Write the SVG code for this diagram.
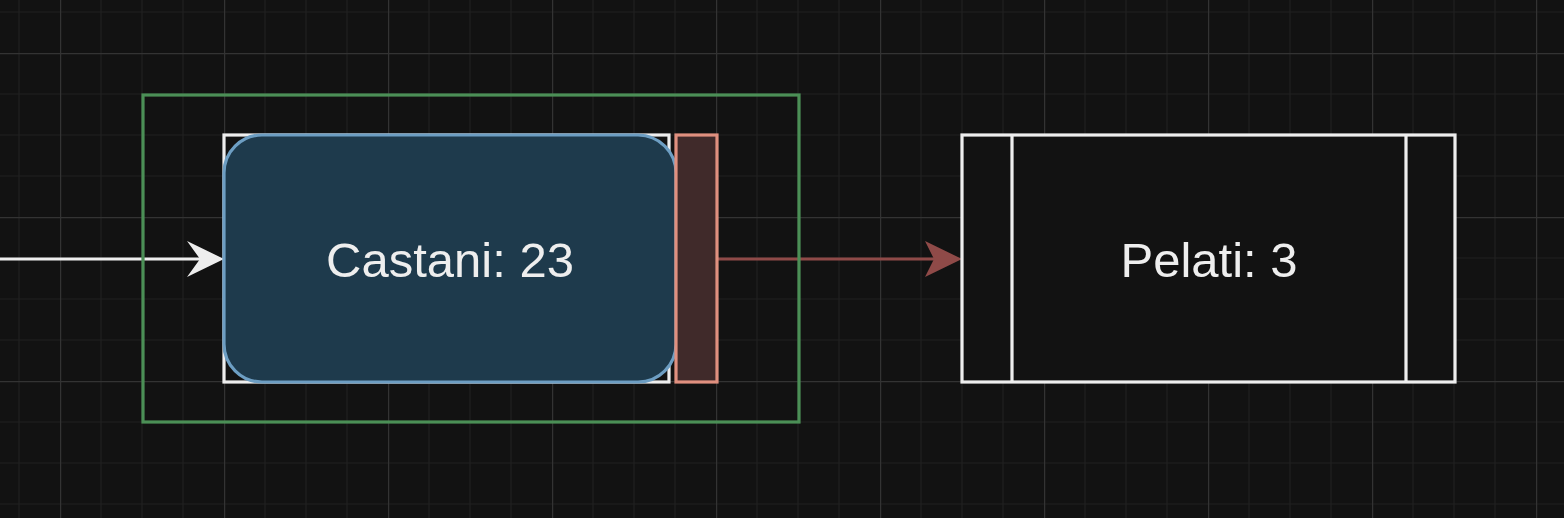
<svg xmlns="http://www.w3.org/2000/svg" width="1564" height="518" viewBox="0 0 1564 518">
  <style>
    .minor { stroke: #1f1f1f; stroke-width: 1.2; }
    .major { stroke: #333333; stroke-width: 1.2; }
    .label { font-family: "Liberation Sans", Arial, sans-serif; font-size: 49px; fill: #eeeeee; text-anchor: middle; }
    .edge { fill: none; stroke-width: 3; }
  </style>
  <defs>
    <pattern id="grid" x="60" y="53" width="164" height="164" patternUnits="userSpaceOnUse">
      <path class="minor" d="M41 0V164M82 0V164M123 0V164M0 41H164M0 82H164M0 123H164"/>
      <path class="major" d="M0.6 0V164M0 0.6H164"/>
    </pattern>
  </defs>
  <rect width="1564" height="518" fill="#121212"/>
  <rect width="1564" height="518" fill="url(#grid)"/>

  <g id="connectors">
    <path class="edge" d="M0 259H204" stroke="#eeeeee"/>
    <polygon points="224,259 187,241 200,259 187,277" fill="#eeeeee"/>
    <path class="edge" d="M717 259H940" stroke="#8f4a48"/>
    <polygon points="962,259 925,241 934,259 925,277" fill="#8f4a48"/>
  </g>

  <g id="container">
    <rect x="143" y="95" width="656" height="327" fill="none" stroke="#4b8f56" stroke-width="3.2"/>
  </g>

  <g id="castani">
    <rect x="224" y="135" width="445" height="247" fill="#121212" stroke="#eeeeee" stroke-width="3.2"/>
    <rect x="224" y="135" width="452" height="247" rx="38" ry="38" fill="#1e3a4c" stroke="#6d9ec3" stroke-width="3.2"/>
    <text class="label" x="450" y="277">Castani: 23</text>
  </g>

  <g id="tag">
    <rect x="676" y="135" width="41" height="247" fill="#402a2a" stroke="#e0907f" stroke-width="3.2"/>
  </g>

  <g id="pelati">
    <rect x="962" y="135" width="493" height="247" fill="#121212" stroke="#eeeeee" stroke-width="3.2"/>
    <path d="M1012 135V382M1406 135V382" stroke="#eeeeee" stroke-width="3.2"/>
    <text class="label" x="1209" y="277">Pelati: 3</text>
  </g>
</svg>
